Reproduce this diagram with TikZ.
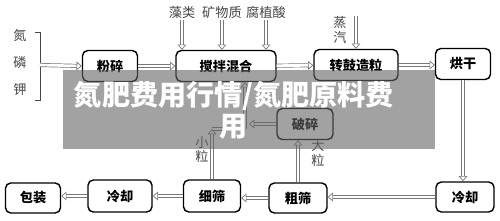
\documentclass[tikz,border=0pt]{standalone}
\usepackage{fontspec}
\newfontfamily\cjk{Noto Sans CJK SC}
\usetikzlibrary{arrows.meta,positioning,calc}
\definecolor{pipegray}{RGB}{120,120,120}
\definecolor{tgray}{RGB}{70,70,70}
\definecolor{veil}{RGB}{100,100,100}

\begin{document}
\begin{tikzpicture}[x=0.02cm,y=-0.02cm,
  pbox/.style={rectangle,draw,thick,rounded corners=3pt,fill=white,align=center,font=\cjk\bfseries\fontsize{7.5}{9}\selectfont,minimum height=0.62cm,inner sep=1pt},
  ilabel/.style={font=\cjk\fontsize{7.5}{9.5}\selectfont,text=tgray,inner sep=1pt,align=center},
  pipe/.style={draw=pipegray,line width=0.4pt,double=white,double distance=1.5pt},
  flow/.style={pipe,-{Triangle[open,length=3pt,width=5pt]}}
]
  \useasboundingbox (0,0) rectangle (500,220);

  % === raw materials ===
  \foreach \t/\y in {氮/36,磷/63,钾/90}
    \node[ilabel] (el-\y) at (20,\y) {\t};
  \draw[tgray] (35,32) -- (40,32) -- (40,100) -- (35,100);
  \coordinate (brk) at (40,65);

  % === top row ===
  \node[pbox,minimum width=1.1cm] (grind) at (110,66) {粉碎};
  \node[pbox,minimum width=2.0cm] (mix) at (226,66) {搅拌混合};
  \node[pbox,minimum width=1.68cm] (gran) at (356,65) {转鼓造粒};
  \node[pbox,minimum width=1.1cm] (dry) at (463,64) {烘干};

  % additives
  \node[ilabel] (algae) at (182,12) {藻类};
  \node[ilabel] (mineral) at (222,12) {矿物质};
  \node[ilabel] (humic) at (266,12) {腐植酸};
  \node[ilabel,font=\cjk\fontsize{7.5}{8}\selectfont] (steam) at (340,30) {蒸\\汽};
  \coordinate (steamin) at (356,16);

  % === bottom row ===
  \node[pbox,minimum width=1.16cm,minimum height=0.6cm] (coolr) at (465,197) {冷却};
  \node[pbox,minimum width=1.16cm,minimum height=0.6cm] (coarse) at (298,198) {粗筛};
  \node[pbox,minimum width=1.12cm,minimum height=0.62cm] (crush) at (305,124) {破碎};
  \node[pbox,minimum width=1.14cm,minimum height=0.64cm] (fine) at (212,196) {细筛};
  \node[pbox,minimum width=1.28cm,minimum height=0.64cm] (cooll) at (120,196) {冷却};
  \node[pbox,minimum width=1.1cm,minimum height=0.6cm] (pack) at (33,198) {包装};

  \node[ilabel,font=\cjk\fontsize{7.5}{8}\selectfont] (big) at (318,153) {大\\粒};
  \node[ilabel,font=\cjk\fontsize{7.5}{8}\selectfont] (small) at (202,150) {小\\粒};

  % main flow
  \draw[flow] (brk) -- (grind.west);
  \draw[flow] (grind) -- (mix);
  \draw[flow] (mix) -- (gran);
  \draw[flow] (gran.east) -- (dry.west |- gran.east);
  \draw[flow] (algae.south -| 182,0) -- (182,0 |- mix.north);
  \draw[flow] (mineral.south) -- (mineral.south |- mix.north);
  \draw[flow] (humic.south) -- (humic.south |- mix.north);
  \draw[flow] (steamin) -- (steamin |- gran.north);
  \draw[flow] (dry.south) -- (dry.south |- coolr.north);
  \draw[flow] (coolr.west) -- (coarse.east |- coolr.west);
  \draw[flow] (coarse.west) -- (fine.east |- coarse.west);
  \draw[flow] (fine.west) -- (cooll.east);
  \draw[flow] (cooll.west) -- (pack.east |- cooll.west);

  % returns
  \coordinate (jm) at (245,129);
  \draw[flow] (coarse.north) -- (coarse.north |- crush.south);
  \draw[pipe] (fine.north |- jm) -- (jm);
  \draw[flow] (fine.north) -- (fine.north |- jm);
  \draw[flow] (jm) -- (jm |- mix.south);
  \draw[flow] (crush.west) -- (249,0 |- crush.west);

  % banner
  \fill[veil,opacity=0.6] (63,70) rectangle (435,149);
  \node[font=\cjk\bfseries\fontsize{16}{17.5}\selectfont,text=white,align=center] (banner) at (234,110) {氮肥费用行情/氮肥原料费\\用};
\end{tikzpicture}
\end{document}
